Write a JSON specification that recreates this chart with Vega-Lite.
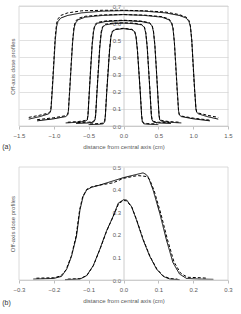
{
"$schema":"https://vega.github.io/schema/vega-lite/v6.json",
"autosize":{"type":"none"},"width":241,"height":314,"padding":0,
"config":{"view":{"stroke":null},"font":"Liberation Sans",
"axis":{"labelFont":"Liberation Sans","labelFontSize":6,"labelColor":"#595959","titleFont":"Liberation Sans","titleFontSize":6,"titleFontWeight":"normal","titleColor":"#595959","domainColor":"#bfbfbf","tickColor":"#bfbfbf","gridColor":"#d9d9d9","gridWidth":0.8,"domainWidth":0.8,"labelFlush":false}},
"datasets":{"d":[
{"p":"a","c":1,"t":"s","x":-1.36,"y":0.04},{"p":"a","c":1,"t":"s","x":-1.2,"y":0.055},{"p":"a","c":1,"t":"s","x":-1.08,"y":0.07},{"p":"a","c":1,"t":"s","x":-1.05,"y":0.08},{"p":"a","c":1,"t":"s","x":-1.04,"y":0.1},{"p":"a","c":1,"t":"s","x":-1.02,"y":0.22},{"p":"a","c":1,"t":"s","x":-1.0,"y":0.36},{"p":"a","c":1,"t":"s","x":-0.98,"y":0.5},{"p":"a","c":1,"t":"s","x":-0.96,"y":0.58},{"p":"a","c":1,"t":"s","x":-0.94,"y":0.61},{"p":"a","c":1,"t":"s","x":-0.9,"y":0.63},{"p":"a","c":1,"t":"s","x":-0.8,"y":0.645},{"p":"a","c":1,"t":"s","x":-0.6,"y":0.66},{"p":"a","c":1,"t":"s","x":-0.3,"y":0.67},{"p":"a","c":1,"t":"s","x":0,"y":0.673},{"p":"a","c":1,"t":"s","x":0.3,"y":0.67},{"p":"a","c":1,"t":"s","x":0.6,"y":0.66},{"p":"a","c":1,"t":"s","x":0.8,"y":0.645},{"p":"a","c":1,"t":"s","x":0.9,"y":0.63},{"p":"a","c":1,"t":"s","x":0.94,"y":0.61},{"p":"a","c":1,"t":"s","x":0.96,"y":0.58},{"p":"a","c":1,"t":"s","x":0.98,"y":0.5},{"p":"a","c":1,"t":"s","x":1.0,"y":0.36},{"p":"a","c":1,"t":"s","x":1.02,"y":0.22},{"p":"a","c":1,"t":"s","x":1.04,"y":0.1},{"p":"a","c":1,"t":"s","x":1.05,"y":0.08},{"p":"a","c":1,"t":"s","x":1.08,"y":0.07},{"p":"a","c":1,"t":"s","x":1.2,"y":0.055},{"p":"a","c":1,"t":"s","x":1.36,"y":0.04},
{"p":"a","c":1,"t":"d","x":-1.36,"y":0.05},{"p":"a","c":1,"t":"d","x":-1.2,"y":0.063},{"p":"a","c":1,"t":"d","x":-1.08,"y":0.075},{"p":"a","c":1,"t":"d","x":-1.05,"y":0.085},{"p":"a","c":1,"t":"d","x":-1.04,"y":0.11},{"p":"a","c":1,"t":"d","x":-1.02,"y":0.24},{"p":"a","c":1,"t":"d","x":-1.0,"y":0.38},{"p":"a","c":1,"t":"d","x":-0.98,"y":0.52},{"p":"a","c":1,"t":"d","x":-0.96,"y":0.6},{"p":"a","c":1,"t":"d","x":-0.94,"y":0.625},{"p":"a","c":1,"t":"d","x":-0.9,"y":0.645},{"p":"a","c":1,"t":"d","x":-0.8,"y":0.66},{"p":"a","c":1,"t":"d","x":-0.6,"y":0.672},{"p":"a","c":1,"t":"d","x":-0.3,"y":0.675},{"p":"a","c":1,"t":"d","x":0,"y":0.675},{"p":"a","c":1,"t":"d","x":0.3,"y":0.672},{"p":"a","c":1,"t":"d","x":0.6,"y":0.665},{"p":"a","c":1,"t":"d","x":0.8,"y":0.65},{"p":"a","c":1,"t":"d","x":0.9,"y":0.635},{"p":"a","c":1,"t":"d","x":0.94,"y":0.615},{"p":"a","c":1,"t":"d","x":0.96,"y":0.585},{"p":"a","c":1,"t":"d","x":0.98,"y":0.5},{"p":"a","c":1,"t":"d","x":1.0,"y":0.35},{"p":"a","c":1,"t":"d","x":1.02,"y":0.21},{"p":"a","c":1,"t":"d","x":1.04,"y":0.1},{"p":"a","c":1,"t":"d","x":1.05,"y":0.085},{"p":"a","c":1,"t":"d","x":1.08,"y":0.075},{"p":"a","c":1,"t":"d","x":1.2,"y":0.063},{"p":"a","c":1,"t":"d","x":1.36,"y":0.05},
{"p":"a","c":2,"t":"s","x":-1.24,"y":0.03},{"p":"a","c":2,"t":"s","x":-1.0,"y":0.042},{"p":"a","c":2,"t":"s","x":-0.83,"y":0.055},{"p":"a","c":2,"t":"s","x":-0.8,"y":0.065},{"p":"a","c":2,"t":"s","x":-0.79,"y":0.09},{"p":"a","c":2,"t":"s","x":-0.77,"y":0.22},{"p":"a","c":2,"t":"s","x":-0.75,"y":0.36},{"p":"a","c":2,"t":"s","x":-0.73,"y":0.49},{"p":"a","c":2,"t":"s","x":-0.71,"y":0.57},{"p":"a","c":2,"t":"s","x":-0.69,"y":0.6},{"p":"a","c":2,"t":"s","x":-0.65,"y":0.62},{"p":"a","c":2,"t":"s","x":-0.55,"y":0.635},{"p":"a","c":2,"t":"s","x":-0.3,"y":0.645},{"p":"a","c":2,"t":"s","x":0,"y":0.65},{"p":"a","c":2,"t":"s","x":0.3,"y":0.645},{"p":"a","c":2,"t":"s","x":0.55,"y":0.635},{"p":"a","c":2,"t":"s","x":0.65,"y":0.62},{"p":"a","c":2,"t":"s","x":0.69,"y":0.6},{"p":"a","c":2,"t":"s","x":0.71,"y":0.57},{"p":"a","c":2,"t":"s","x":0.73,"y":0.49},{"p":"a","c":2,"t":"s","x":0.75,"y":0.36},{"p":"a","c":2,"t":"s","x":0.77,"y":0.22},{"p":"a","c":2,"t":"s","x":0.79,"y":0.09},{"p":"a","c":2,"t":"s","x":0.8,"y":0.065},{"p":"a","c":2,"t":"s","x":0.83,"y":0.055},{"p":"a","c":2,"t":"s","x":1.0,"y":0.042},{"p":"a","c":2,"t":"s","x":1.24,"y":0.03},
{"p":"a","c":2,"t":"d","x":-1.24,"y":0.037},{"p":"a","c":2,"t":"d","x":-1.0,"y":0.048},{"p":"a","c":2,"t":"d","x":-0.83,"y":0.06},{"p":"a","c":2,"t":"d","x":-0.8,"y":0.07},{"p":"a","c":2,"t":"d","x":-0.79,"y":0.095},{"p":"a","c":2,"t":"d","x":-0.77,"y":0.23},{"p":"a","c":2,"t":"d","x":-0.75,"y":0.37},{"p":"a","c":2,"t":"d","x":-0.73,"y":0.5},{"p":"a","c":2,"t":"d","x":-0.71,"y":0.58},{"p":"a","c":2,"t":"d","x":-0.69,"y":0.61},{"p":"a","c":2,"t":"d","x":-0.65,"y":0.628},{"p":"a","c":2,"t":"d","x":-0.55,"y":0.64},{"p":"a","c":2,"t":"d","x":-0.3,"y":0.648},{"p":"a","c":2,"t":"d","x":0,"y":0.65},{"p":"a","c":2,"t":"d","x":0.3,"y":0.647},{"p":"a","c":2,"t":"d","x":0.55,"y":0.638},{"p":"a","c":2,"t":"d","x":0.65,"y":0.625},{"p":"a","c":2,"t":"d","x":0.69,"y":0.605},{"p":"a","c":2,"t":"d","x":0.71,"y":0.575},{"p":"a","c":2,"t":"d","x":0.73,"y":0.49},{"p":"a","c":2,"t":"d","x":0.75,"y":0.35},{"p":"a","c":2,"t":"d","x":0.77,"y":0.21},{"p":"a","c":2,"t":"d","x":0.79,"y":0.09},{"p":"a","c":2,"t":"d","x":0.8,"y":0.068},{"p":"a","c":2,"t":"d","x":0.83,"y":0.058},{"p":"a","c":2,"t":"d","x":1.0,"y":0.046},{"p":"a","c":2,"t":"d","x":1.24,"y":0.034},
{"p":"a","c":3,"t":"s","x":-0.83,"y":0.018},{"p":"a","c":3,"t":"s","x":-0.65,"y":0.022},{"p":"a","c":3,"t":"s","x":-0.55,"y":0.028},{"p":"a","c":3,"t":"s","x":-0.52,"y":0.035},{"p":"a","c":3,"t":"s","x":-0.51,"y":0.06},{"p":"a","c":3,"t":"s","x":-0.49,"y":0.2},{"p":"a","c":3,"t":"s","x":-0.47,"y":0.34},{"p":"a","c":3,"t":"s","x":-0.45,"y":0.47},{"p":"a","c":3,"t":"s","x":-0.43,"y":0.55},{"p":"a","c":3,"t":"s","x":-0.41,"y":0.585},{"p":"a","c":3,"t":"s","x":-0.37,"y":0.6},{"p":"a","c":3,"t":"s","x":-0.25,"y":0.61},{"p":"a","c":3,"t":"s","x":0,"y":0.615},{"p":"a","c":3,"t":"s","x":0.25,"y":0.61},{"p":"a","c":3,"t":"s","x":0.37,"y":0.6},{"p":"a","c":3,"t":"s","x":0.41,"y":0.585},{"p":"a","c":3,"t":"s","x":0.43,"y":0.55},{"p":"a","c":3,"t":"s","x":0.45,"y":0.47},{"p":"a","c":3,"t":"s","x":0.47,"y":0.34},{"p":"a","c":3,"t":"s","x":0.49,"y":0.2},{"p":"a","c":3,"t":"s","x":0.51,"y":0.06},{"p":"a","c":3,"t":"s","x":0.52,"y":0.035},{"p":"a","c":3,"t":"s","x":0.55,"y":0.028},{"p":"a","c":3,"t":"s","x":0.65,"y":0.022},{"p":"a","c":3,"t":"s","x":0.83,"y":0.018},
{"p":"a","c":3,"t":"d","x":-0.8,"y":0.022},{"p":"a","c":3,"t":"d","x":-0.65,"y":0.026},{"p":"a","c":3,"t":"d","x":-0.55,"y":0.032},{"p":"a","c":3,"t":"d","x":-0.52,"y":0.04},{"p":"a","c":3,"t":"d","x":-0.51,"y":0.065},{"p":"a","c":3,"t":"d","x":-0.49,"y":0.21},{"p":"a","c":3,"t":"d","x":-0.47,"y":0.35},{"p":"a","c":3,"t":"d","x":-0.45,"y":0.48},{"p":"a","c":3,"t":"d","x":-0.43,"y":0.56},{"p":"a","c":3,"t":"d","x":-0.41,"y":0.592},{"p":"a","c":3,"t":"d","x":-0.37,"y":0.605},{"p":"a","c":3,"t":"d","x":-0.25,"y":0.613},{"p":"a","c":3,"t":"d","x":0,"y":0.617},{"p":"a","c":3,"t":"d","x":0.25,"y":0.612},{"p":"a","c":3,"t":"d","x":0.37,"y":0.603},{"p":"a","c":3,"t":"d","x":0.41,"y":0.588},{"p":"a","c":3,"t":"d","x":0.43,"y":0.555},{"p":"a","c":3,"t":"d","x":0.45,"y":0.475},{"p":"a","c":3,"t":"d","x":0.47,"y":0.345},{"p":"a","c":3,"t":"d","x":0.49,"y":0.205},{"p":"a","c":3,"t":"d","x":0.51,"y":0.065},{"p":"a","c":3,"t":"d","x":0.52,"y":0.04},{"p":"a","c":3,"t":"d","x":0.55,"y":0.032},{"p":"a","c":3,"t":"d","x":0.65,"y":0.026},{"p":"a","c":3,"t":"d","x":0.8,"y":0.022},
{"p":"a","c":4,"t":"s","x":-0.68,"y":0.015},{"p":"a","c":4,"t":"s","x":-0.5,"y":0.018},{"p":"a","c":4,"t":"s","x":-0.43,"y":0.023},{"p":"a","c":4,"t":"s","x":-0.41,"y":0.035},{"p":"a","c":4,"t":"s","x":-0.4,"y":0.06},{"p":"a","c":4,"t":"s","x":-0.38,"y":0.2},{"p":"a","c":4,"t":"s","x":-0.36,"y":0.33},{"p":"a","c":4,"t":"s","x":-0.34,"y":0.46},{"p":"a","c":4,"t":"s","x":-0.32,"y":0.54},{"p":"a","c":4,"t":"s","x":-0.3,"y":0.575},{"p":"a","c":4,"t":"s","x":-0.26,"y":0.59},{"p":"a","c":4,"t":"s","x":-0.15,"y":0.597},{"p":"a","c":4,"t":"s","x":0,"y":0.6},{"p":"a","c":4,"t":"s","x":0.15,"y":0.597},{"p":"a","c":4,"t":"s","x":0.26,"y":0.59},{"p":"a","c":4,"t":"s","x":0.3,"y":0.575},{"p":"a","c":4,"t":"s","x":0.32,"y":0.54},{"p":"a","c":4,"t":"s","x":0.34,"y":0.46},{"p":"a","c":4,"t":"s","x":0.36,"y":0.33},{"p":"a","c":4,"t":"s","x":0.38,"y":0.2},{"p":"a","c":4,"t":"s","x":0.4,"y":0.06},{"p":"a","c":4,"t":"s","x":0.41,"y":0.035},{"p":"a","c":4,"t":"s","x":0.43,"y":0.023},{"p":"a","c":4,"t":"s","x":0.5,"y":0.018},{"p":"a","c":4,"t":"s","x":0.68,"y":0.015},
{"p":"a","c":4,"t":"d","x":-0.66,"y":0.02},{"p":"a","c":4,"t":"d","x":-0.5,"y":0.022},{"p":"a","c":4,"t":"d","x":-0.43,"y":0.027},{"p":"a","c":4,"t":"d","x":-0.41,"y":0.04},{"p":"a","c":4,"t":"d","x":-0.4,"y":0.065},{"p":"a","c":4,"t":"d","x":-0.38,"y":0.21},{"p":"a","c":4,"t":"d","x":-0.36,"y":0.34},{"p":"a","c":4,"t":"d","x":-0.34,"y":0.47},{"p":"a","c":4,"t":"d","x":-0.32,"y":0.55},{"p":"a","c":4,"t":"d","x":-0.3,"y":0.58},{"p":"a","c":4,"t":"d","x":-0.26,"y":0.594},{"p":"a","c":4,"t":"d","x":-0.15,"y":0.6},{"p":"a","c":4,"t":"d","x":0,"y":0.602},{"p":"a","c":4,"t":"d","x":0.15,"y":0.6},{"p":"a","c":4,"t":"d","x":0.26,"y":0.592},{"p":"a","c":4,"t":"d","x":0.3,"y":0.578},{"p":"a","c":4,"t":"d","x":0.32,"y":0.545},{"p":"a","c":4,"t":"d","x":0.34,"y":0.465},{"p":"a","c":4,"t":"d","x":0.36,"y":0.335},{"p":"a","c":4,"t":"d","x":0.38,"y":0.205},{"p":"a","c":4,"t":"d","x":0.4,"y":0.065},{"p":"a","c":4,"t":"d","x":0.41,"y":0.04},{"p":"a","c":4,"t":"d","x":0.43,"y":0.027},{"p":"a","c":4,"t":"d","x":0.5,"y":0.022},{"p":"a","c":4,"t":"d","x":0.66,"y":0.02},
{"p":"a","c":5,"t":"s","x":-0.5,"y":0.008},{"p":"a","c":5,"t":"s","x":-0.35,"y":0.01},{"p":"a","c":5,"t":"s","x":-0.29,"y":0.013},{"p":"a","c":5,"t":"s","x":-0.27,"y":0.025},{"p":"a","c":5,"t":"s","x":-0.26,"y":0.06},{"p":"a","c":5,"t":"s","x":-0.24,"y":0.2},{"p":"a","c":5,"t":"s","x":-0.22,"y":0.32},{"p":"a","c":5,"t":"s","x":-0.2,"y":0.44},{"p":"a","c":5,"t":"s","x":-0.18,"y":0.52},{"p":"a","c":5,"t":"s","x":-0.16,"y":0.55},{"p":"a","c":5,"t":"s","x":-0.12,"y":0.562},{"p":"a","c":5,"t":"s","x":0,"y":0.568},{"p":"a","c":5,"t":"s","x":0.12,"y":0.562},{"p":"a","c":5,"t":"s","x":0.16,"y":0.55},{"p":"a","c":5,"t":"s","x":0.18,"y":0.52},{"p":"a","c":5,"t":"s","x":0.2,"y":0.44},{"p":"a","c":5,"t":"s","x":0.22,"y":0.32},{"p":"a","c":5,"t":"s","x":0.24,"y":0.2},{"p":"a","c":5,"t":"s","x":0.26,"y":0.06},{"p":"a","c":5,"t":"s","x":0.27,"y":0.025},{"p":"a","c":5,"t":"s","x":0.29,"y":0.013},{"p":"a","c":5,"t":"s","x":0.35,"y":0.01},{"p":"a","c":5,"t":"s","x":0.5,"y":0.008},
{"p":"a","c":5,"t":"d","x":-0.48,"y":0.012},{"p":"a","c":5,"t":"d","x":-0.35,"y":0.014},{"p":"a","c":5,"t":"d","x":-0.29,"y":0.017},{"p":"a","c":5,"t":"d","x":-0.27,"y":0.03},{"p":"a","c":5,"t":"d","x":-0.26,"y":0.065},{"p":"a","c":5,"t":"d","x":-0.24,"y":0.21},{"p":"a","c":5,"t":"d","x":-0.22,"y":0.33},{"p":"a","c":5,"t":"d","x":-0.2,"y":0.45},{"p":"a","c":5,"t":"d","x":-0.18,"y":0.525},{"p":"a","c":5,"t":"d","x":-0.16,"y":0.553},{"p":"a","c":5,"t":"d","x":-0.12,"y":0.565},{"p":"a","c":5,"t":"d","x":0,"y":0.57},{"p":"a","c":5,"t":"d","x":0.12,"y":0.564},{"p":"a","c":5,"t":"d","x":0.16,"y":0.552},{"p":"a","c":5,"t":"d","x":0.18,"y":0.522},{"p":"a","c":5,"t":"d","x":0.2,"y":0.445},{"p":"a","c":5,"t":"d","x":0.22,"y":0.325},{"p":"a","c":5,"t":"d","x":0.24,"y":0.205},{"p":"a","c":5,"t":"d","x":0.26,"y":0.065},{"p":"a","c":5,"t":"d","x":0.27,"y":0.03},{"p":"a","c":5,"t":"d","x":0.29,"y":0.017},{"p":"a","c":5,"t":"d","x":0.35,"y":0.014},{"p":"a","c":5,"t":"d","x":0.48,"y":0.012},
{"p":"b","c":1,"t":"s","x":-0.259,"y":0.004},{"p":"b","c":1,"t":"s","x":-0.2,"y":0.007},{"p":"b","c":1,"t":"s","x":-0.178,"y":0.016},{"p":"b","c":1,"t":"s","x":-0.163,"y":0.048},{"p":"b","c":1,"t":"s","x":-0.149,"y":0.106},{"p":"b","c":1,"t":"s","x":-0.135,"y":0.194},{"p":"b","c":1,"t":"s","x":-0.125,"y":0.31},{"p":"b","c":1,"t":"s","x":-0.116,"y":0.369},{"p":"b","c":1,"t":"s","x":-0.106,"y":0.398},{"p":"b","c":1,"t":"s","x":-0.092,"y":0.41},{"p":"b","c":1,"t":"s","x":-0.068,"y":0.42},{"p":"b","c":1,"t":"s","x":0,"y":0.453},{"p":"b","c":1,"t":"s","x":0.04,"y":0.468},{"p":"b","c":1,"t":"s","x":0.056,"y":0.474},{"p":"b","c":1,"t":"s","x":0.064,"y":0.468},{"p":"b","c":1,"t":"s","x":0.071,"y":0.456},{"p":"b","c":1,"t":"s","x":0.085,"y":0.398},{"p":"b","c":1,"t":"s","x":0.104,"y":0.296},{"p":"b","c":1,"t":"s","x":0.123,"y":0.179},{"p":"b","c":1,"t":"s","x":0.142,"y":0.077},{"p":"b","c":1,"t":"s","x":0.161,"y":0.026},{"p":"b","c":1,"t":"s","x":0.181,"y":0.007},{"p":"b","c":1,"t":"s","x":0.219,"y":0.004},{"p":"b","c":1,"t":"s","x":0.258,"y":0.003},
{"p":"b","c":1,"t":"d","x":-0.25,"y":0.008},{"p":"b","c":1,"t":"d","x":-0.2,"y":0.01},{"p":"b","c":1,"t":"d","x":-0.18,"y":0.018},{"p":"b","c":1,"t":"d","x":-0.165,"y":0.045},{"p":"b","c":1,"t":"d","x":-0.15,"y":0.105},{"p":"b","c":1,"t":"d","x":-0.136,"y":0.195},{"p":"b","c":1,"t":"d","x":-0.126,"y":0.31},{"p":"b","c":1,"t":"d","x":-0.117,"y":0.37},{"p":"b","c":1,"t":"d","x":-0.105,"y":0.402},{"p":"b","c":1,"t":"d","x":-0.09,"y":0.413},{"p":"b","c":1,"t":"d","x":-0.068,"y":0.42},{"p":"b","c":1,"t":"d","x":-0.03,"y":0.43},{"p":"b","c":1,"t":"d","x":0,"y":0.45},{"p":"b","c":1,"t":"d","x":0.04,"y":0.462},{"p":"b","c":1,"t":"d","x":0.055,"y":0.46},{"p":"b","c":1,"t":"d","x":0.065,"y":0.458},{"p":"b","c":1,"t":"d","x":0.075,"y":0.445},{"p":"b","c":1,"t":"d","x":0.088,"y":0.395},{"p":"b","c":1,"t":"d","x":0.107,"y":0.295},{"p":"b","c":1,"t":"d","x":0.126,"y":0.18},{"p":"b","c":1,"t":"d","x":0.145,"y":0.08},{"p":"b","c":1,"t":"d","x":0.164,"y":0.03},{"p":"b","c":1,"t":"d","x":0.184,"y":0.012},{"p":"b","c":1,"t":"d","x":0.22,"y":0.01},{"p":"b","c":1,"t":"d","x":0.24,"y":0.008},
{"p":"b","c":2,"t":"s","x":-0.168,"y":0.0015},{"p":"b","c":2,"t":"s","x":-0.125,"y":0.004},{"p":"b","c":2,"t":"s","x":-0.106,"y":0.019},{"p":"b","c":2,"t":"s","x":-0.087,"y":0.063},{"p":"b","c":2,"t":"s","x":-0.068,"y":0.136},{"p":"b","c":2,"t":"s","x":-0.049,"y":0.216},{"p":"b","c":2,"t":"s","x":-0.03,"y":0.281},{"p":"b","c":2,"t":"s","x":-0.015,"y":0.34},{"p":"b","c":2,"t":"s","x":0,"y":0.355},{"p":"b","c":2,"t":"s","x":0.009,"y":0.354},{"p":"b","c":2,"t":"s","x":0.023,"y":0.325},{"p":"b","c":2,"t":"s","x":0.037,"y":0.267},{"p":"b","c":2,"t":"s","x":0.056,"y":0.179},{"p":"b","c":2,"t":"s","x":0.075,"y":0.106},{"p":"b","c":2,"t":"s","x":0.095,"y":0.048},{"p":"b","c":2,"t":"s","x":0.114,"y":0.016},{"p":"b","c":2,"t":"s","x":0.133,"y":0.004},{"p":"b","c":2,"t":"s","x":0.161,"y":0.0015},
{"p":"b","c":2,"t":"d","x":-0.16,"y":0.004},{"p":"b","c":2,"t":"d","x":-0.125,"y":0.006},{"p":"b","c":2,"t":"d","x":-0.105,"y":0.02},{"p":"b","c":2,"t":"d","x":-0.086,"y":0.065},{"p":"b","c":2,"t":"d","x":-0.067,"y":0.138},{"p":"b","c":2,"t":"d","x":-0.048,"y":0.218},{"p":"b","c":2,"t":"d","x":-0.029,"y":0.283},{"p":"b","c":2,"t":"d","x":-0.014,"y":0.338},{"p":"b","c":2,"t":"d","x":0,"y":0.352},{"p":"b","c":2,"t":"d","x":0.009,"y":0.35},{"p":"b","c":2,"t":"d","x":0.024,"y":0.322},{"p":"b","c":2,"t":"d","x":0.038,"y":0.265},{"p":"b","c":2,"t":"d","x":0.057,"y":0.178},{"p":"b","c":2,"t":"d","x":0.076,"y":0.105},{"p":"b","c":2,"t":"d","x":0.096,"y":0.048},{"p":"b","c":2,"t":"d","x":0.115,"y":0.017},{"p":"b","c":2,"t":"d","x":0.134,"y":0.006},{"p":"b","c":2,"t":"d","x":0.155,"y":0.004}
]},
"layer":[
{"data":{"name":"d"},"transform":[{"filter":"datum.p=='a'"}],
"mark":{"type":"line","color":"black","strokeWidth":1},
"encoding":{
"x":{"field":"x","type":"quantitative","scale":{"domain":[-1.5,1.5],"range":[19,228],"nice":false},"axis":{"orient":"bottom","offset":-188,"values":[-1.5,-1,-0.5,0,0.5,1,1.5],"format":".1f","grid":false,"tickSize":3,"labelPadding":3,"titlePadding":5,"title":"distance from central axis (cm)"}},
"y":{"field":"y","type":"quantitative","scale":{"domain":[0,0.7],"range":[126,6],"nice":false},"axis":{"orient":"left","offset":-123.5,"values":[0,0.1,0.2,0.3,0.4,0.5,0.6,0.7],"format":".1f","ticks":false,"labelPadding":3,"title":"Off-axis dose profiles","titleX":-111.5,"titleBaseline":"middle","titleAlign":"center"}},
"detail":{"field":"c"},
"strokeDash":{"field":"t","type":"nominal","scale":{"domain":["s","d"],"range":[[1,0],[3,2]]},"legend":null}}},
{"data":{"name":"d"},"transform":[{"filter":"datum.p=='b'"}],
"mark":{"type":"line","color":"black","strokeWidth":1},
"encoding":{
"x":{"field":"x","type":"quantitative","scale":{"domain":[-0.3,0.3],"range":[19,228],"nice":false},"axis":{"orient":"bottom","offset":-34,"values":[-0.3,-0.2,-0.1,0,0.1,0.2,0.3],"format":".1f","grid":false,"tickSize":3,"labelPadding":3,"titlePadding":5,"title":"distance from central axis (cm)"}},
"y":{"field":"y","type":"quantitative","scale":{"domain":[0,0.5],"range":[280,167],"nice":false},"axis":{"orient":"left","offset":-123.5,"values":[0,0.1,0.2,0.3,0.4,0.5],"format":".1f","ticks":false,"labelPadding":3,"title":"Off-axis dose profiles","titleX":-111.5,"titleBaseline":"middle","titleAlign":"center"}},
"detail":{"field":"c"},
"strokeDash":{"field":"t","type":"nominal","scale":{"domain":["s","d"],"range":[[1,0],[3,2]]},"legend":null}}},
{"data":{"values":[{}]},"mark":{"type":"rect","filled":false,"color":"#d0d0d0","strokeWidth":0.8},
"encoding":{
"x":{"datum":-1.5,"type":"quantitative","scale":{"domain":[-1.5,1.5],"range":[19,228],"nice":false},"axis":{"orient":"bottom","offset":-188,"labels":false,"ticks":false,"domain":false,"grid":false,"title":"(a)","titleFontSize":7,"titleColor":"#333333","titleX":6,"titleY":20,"titleAlign":"center","titleBaseline":"middle","titleAngle":0}},
"x2":{"datum":1.5},
"y":{"datum":0,"type":"quantitative","scale":{"domain":[0,0.7],"range":[126,6],"nice":false},"axis":null},
"y2":{"datum":0.7}}},
{"data":{"values":[{}]},"mark":{"type":"rect","filled":false,"color":"#d0d0d0","strokeWidth":0.8},
"encoding":{
"x":{"datum":-0.3,"type":"quantitative","scale":{"domain":[-0.3,0.3],"range":[19,228],"nice":false},"axis":{"orient":"bottom","offset":-34,"labels":false,"ticks":false,"domain":false,"grid":false,"title":"(b)","titleFontSize":7,"titleColor":"#333333","titleX":6,"titleY":22,"titleAlign":"center","titleBaseline":"middle","titleAngle":0}},
"x2":{"datum":0.3},
"y":{"datum":0,"type":"quantitative","scale":{"domain":[0,0.5],"range":[280,167],"nice":false},"axis":null},
"y2":{"datum":0.5}}}
],
"resolve":{"scale":{"x":"independent","y":"independent"},"axis":{"x":"independent","y":"independent"}}
}
